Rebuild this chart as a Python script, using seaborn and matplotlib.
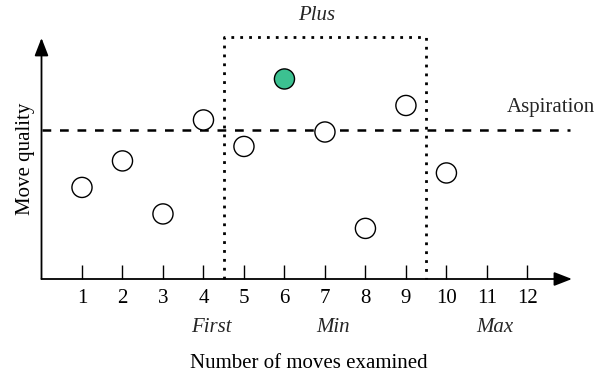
import numpy as np
import pandas as pd
import matplotlib.pyplot as plt
import seaborn as sns

# Datos
moves = [1, 2, 3, 4, 5, 6, 7, 8, 9, 10]
quality = [3.8, 4.9, 2.7, 6.6, 5.5, 8.3, 6.1, 2.1, 7.2, 4.4]
best = [False, False, False, False, False, True, False, False, False, False]
tick_labels = [str(i) for i in range(1, 13)]
aspiration = 6.2
window = (4.5, 9.5)
phase_pos = [4.2, 7.2, 11.2]
phase_names = ['First', 'Min', 'Max']

sns.set_theme(style='white')
plt.rcParams['font.family'] = ['Liberation Serif', 'DejaVu Serif']
fs = 15

df = pd.DataFrame({'moves': moves, 'quality': quality, 'best': best})

fig = plt.figure(figsize=(6, 3.72), dpi=100)
ax = fig.add_axes([41.5 / 600, 93 / 372, (576 - 41.5) / 600, 241 / 372])

# Ventana de busqueda (punteada)
ax.plot([window[0], window[0], window[1], window[1]], [0, 10.05, 10.05, 0],
        color='black', linestyle=(0, (1, 2.2)), linewidth=2, clip_on=False, zorder=1)

# Linea de aspiracion
ax.axhline(aspiration, xmin=0, xmax=13.05 / 13.2, color='black',
           linestyle=(0, (3.5, 3.5)), linewidth=1.8, zorder=1)

sns.scatterplot(data=df, x='moves', y='quality', hue='best',
                palette={False: 'white', True: '#3cc191'},
                s=210, edgecolor='black', linewidth=1, legend=False,
                ax=ax, zorder=3, clip_on=False)

ax.set_xlim(0, 13.2)
ax.set_ylim(0, 10)
for s in ax.spines.values():
    s.set_visible(False)

# Ejes con flechas
arrow = dict(arrowstyle='-|>,head_length=0.9,head_width=0.35', color='black',
             linewidth=1.3, shrinkA=0, shrinkB=0)
ax.annotate('', xy=(13.1, 0), xytext=(0, 0), arrowprops=arrow, annotation_clip=False)
ax.annotate('', xy=(0, 10.0), xytext=(0, 0), arrowprops=arrow, annotation_clip=False)

ax.set_xticks(range(1, 13))
ax.set_xticklabels(tick_labels)
ax.set_yticks([])
ax.tick_params(axis='x', direction='in', length=10, width=1, pad=7,
               labelsize=fs, bottom=True, colors='black')

for xp, name in zip(phase_pos, phase_names):
    ax.text(xp, -2.0, name, ha='center', va='center', style='italic',
            fontsize=fs, clip_on=False)

ax.text(6.8, 10.95, 'Plus', ha='center', va='center', style='italic',
        fontsize=fs, clip_on=False)
ax.text(11.5, 7.1, 'Aspiration', ha='left', va='center', fontsize=fs, clip_on=False)

ax.set_xlabel('Number of moves examined', fontsize=fs, labelpad=33, color='black')
ax.set_ylabel('Move quality', fontsize=fs, labelpad=5, color='black')

fig.savefig('out.png', dpi=100)
